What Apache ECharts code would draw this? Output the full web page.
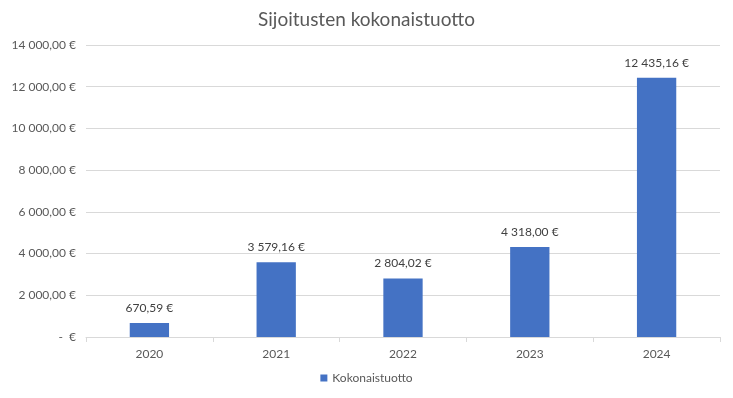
<!DOCTYPE html>
<html><head><meta charset="utf-8">
<script src="https://cdn.jsdelivr.net/npm/echarts@6/dist/echarts.min.js"></script>
<style>html,body{margin:0;padding:0;background:#fff}#c{width:733px;height:398px}</style>
</head><body><div id="c"></div>
<script>
const categories = ['2020','2021','2022','2023','2024'];
const values = [670.59, 3579.16, 2804.02, 4318.00, 12435.16];
const seriesName = 'Kokonaistuotto';
const titleText = 'Sijoitusten kokonaistuotto';

function fmt(v){
  if (v === 0) return '-  €';
  const parts = v.toFixed(2).split('.');
  const intPart = parts[0].replace(/\B(?=(\d{3})+(?!\d))/g, ' ');
  return intPart + ',' + parts[1] + ' €';
}
const FONT = 'Lato';
const chart = echarts.init(document.getElementById('c'));
chart.setOption({
  animation:false,
  title:{text:titleText,left:'center',top:5,textStyle:{fontFamily:FONT,fontSize:19,fontWeight:'normal',color:'#595959'}},
  grid:{left:86,right:13,top:45,bottom:61},
  legend:{bottom:9,left:'center',itemWidth:7,itemHeight:7,itemGap:5,icon:'rect',
    textStyle:{fontFamily:FONT,fontSize:12,color:'#595959'},data:[seriesName]},
  xAxis:{type:'category',data:categories,
    axisLine:{lineStyle:{color:'#d9d9d9'}},
    axisTick:{show:true,length:5,lineStyle:{color:'#d9d9d9'}},
    axisLabel:{fontFamily:FONT,fontSize:12,color:'#595959',margin:11}},
  yAxis:{type:'value',min:0,max:14000,interval:2000,
    axisLine:{show:false},axisTick:{show:false},
    splitLine:{lineStyle:{color:'#d9d9d9'}},
    axisLabel:{fontFamily:FONT,fontSize:12,color:'#595959',margin:10,formatter:fmt}},
  series:[{name:seriesName,type:'bar',data:values,barWidth:'31%',
    itemStyle:{color:'#4472c4'},
    label:{show:true,position:'top',distance:9,fontFamily:FONT,fontSize:12,color:'#404040',formatter:p=>fmt(p.value)}}]
});
</script></body></html>
